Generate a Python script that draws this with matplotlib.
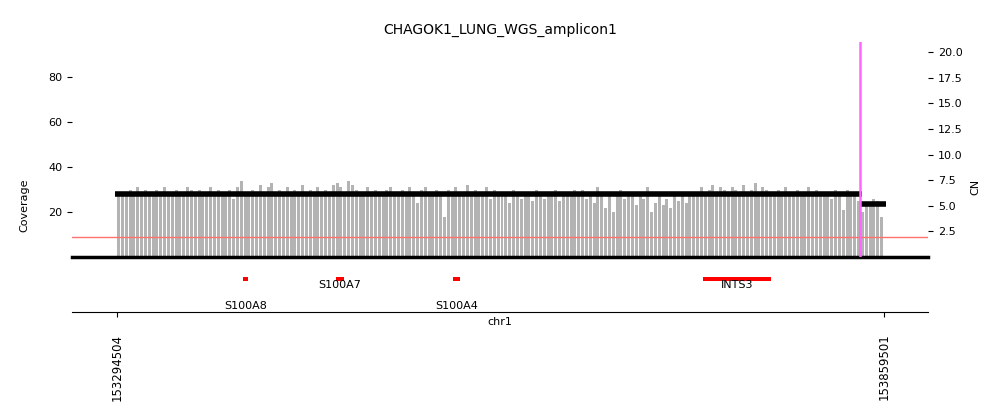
import numpy as np
import matplotlib
matplotlib.use("Agg")
import matplotlib.pyplot as plt
from matplotlib.patches import Rectangle

title = "CHAGOK1_LUNG_WGS_amplicon1"
chrom = "chr1"
region_start = 153294504
region_end = 153859501

# coverage per window (left to right)
coverage = [
    27, 29, 28, 30, 29, 31, 28, 30, 27, 29,
    30, 28, 31, 29, 27, 30, 28, 29, 31, 30,
    29, 30, 28, 27, 31, 29, 30, 28, 29, 30,
    26, 31, 34, 29, 28, 30, 27, 32, 29, 31,
    33, 29, 30, 28, 31, 27, 30, 29, 32, 28,
    30, 29, 31, 28, 30, 27, 32, 33, 31, 29,
    34, 32, 30, 29, 28, 31, 27, 30, 29, 28,
    30, 31, 29, 27, 30, 28, 31, 29, 24, 30,
    31, 28, 29, 30, 27, 18, 30, 29, 31, 28,
    29, 32, 27, 30, 28, 29, 31, 26, 30, 28,
    27, 29, 24, 30, 28, 26, 29, 27, 25, 30,
    28, 26, 29, 27, 30, 25, 29, 28, 27, 30,
    28, 30, 26, 29, 24, 31, 27, 22, 29, 20,
    28, 30, 26, 27, 29, 23, 28, 26, 31, 20,
    24, 27, 23, 26, 22, 28, 25, 27, 24, 28,
    27, 29, 31, 28, 30, 32, 29, 31, 30, 28,
    31, 30, 29, 32, 28, 30, 33, 29, 31, 30,
    29, 28, 30, 27, 31, 29, 28, 30, 27, 29,
    31, 29, 30, 28, 27, 29, 26, 30, 28, 21,
    30, 28, 29, 25, 20, 24, 23, 26, 25, 18,
]

# copy number segments
seg_start = [153293030, 153841870]
seg_end = [153843340, 153861000]
seg_cn = [6.2, 5.15]

breakpoint_pos = [153841870]

gene_names = ["S100A8", "S100A7", "S100A4", "INTS3"]
gene_start = [153387330, 153455840, 153542020, 153726190]
gene_end = [153391010, 153461730, 153547180, 153776280]

xmin, xmax = 153261352, 153891916

fig = plt.figure(figsize=(10, 4.16), dpi=100)
ax = fig.add_axes((0.072, 0.382, 0.856, 0.517))
ax2 = ax.twinx()
gax = fig.add_axes((0.072, 0.25, 0.856, 0.12))

# coverage bars
n = len(coverage)
step = (region_end - region_start) / n
xs = region_start + np.arange(n) * step
ax.bar(xs, coverage, width=step * 0.78, align="edge", color="#b3b3b3", linewidth=0)
ax.set_xlim(xmin, xmax)
ax.set_ylim(0, 95.6)
ax.set_yticks([20, 40, 60, 80])
ax.set_xticks([])
ax.set_ylabel("Coverage", fontsize=8)
ax.yaxis.set_label_coords(-0.05, 0.24)
ax.tick_params(axis="y", labelsize=8)
ax.set_title(title, fontsize=10)

for a in (ax, ax2):
    a.spines['top'].set_visible(False)
    a.spines['left'].set_visible(False)
    a.spines['right'].set_visible(False)
ax.spines['bottom'].set_linewidth(2.5)
ax2.spines['bottom'].set_visible(False)

# CN axis
ax2.set_ylim(0, 21.0)
ax2.set_yticks([2.5, 5.0, 7.5, 10.0, 12.5, 15.0, 17.5, 20.0])
ax2.set_yticklabels(["2.5", "5.0", "7.5", "10.0", "12.5", "15.0", "17.5", "20.0"])
ax2.tick_params(axis="y", labelsize=8)
ax2.set_ylabel("CN", fontsize=8)
ax2.yaxis.set_label_coords(1.05, 0.325)
ax2.axhline(2.0, color="#ff7070", linewidth=1.0)
for s, e, c in zip(seg_start, seg_end, seg_cn):
    ax2.plot([s, e], [c, c], color="black", linewidth=4, solid_capstyle="butt")
for b in breakpoint_pos:
    ax2.axvline(b, color="#ff66ff", linewidth=1.8)
ax2.set_xlim(xmin, xmax)

# gene track
gax.set_xlim(xmin, xmax)
gax.set_ylim(0, 50)
for i, (name, s, e) in enumerate(zip(gene_names, gene_start, gene_end)):
    gax.add_patch(Rectangle((s, 31), e - s, 4, color="red", linewidth=0))
    ty = 27 if i % 2 == 1 else 6
    gax.text((s + e) / 2, ty, name, ha="center", va="center", fontsize=8)
gax.spines['top'].set_visible(False)
gax.spines['left'].set_visible(False)
gax.spines['right'].set_visible(False)
gax.set_yticks([])
gax.set_xticks([region_start, region_end])
gax.set_xticklabels([str(region_start), str(region_end)], rotation=90, fontsize=8.5)
gax.tick_params(axis="x", pad=12)
gax.set_xlabel(chrom, fontsize=8)
gax.xaxis.set_label_coords(0.5, -0.1)

fig.savefig("out.png", dpi=100)
